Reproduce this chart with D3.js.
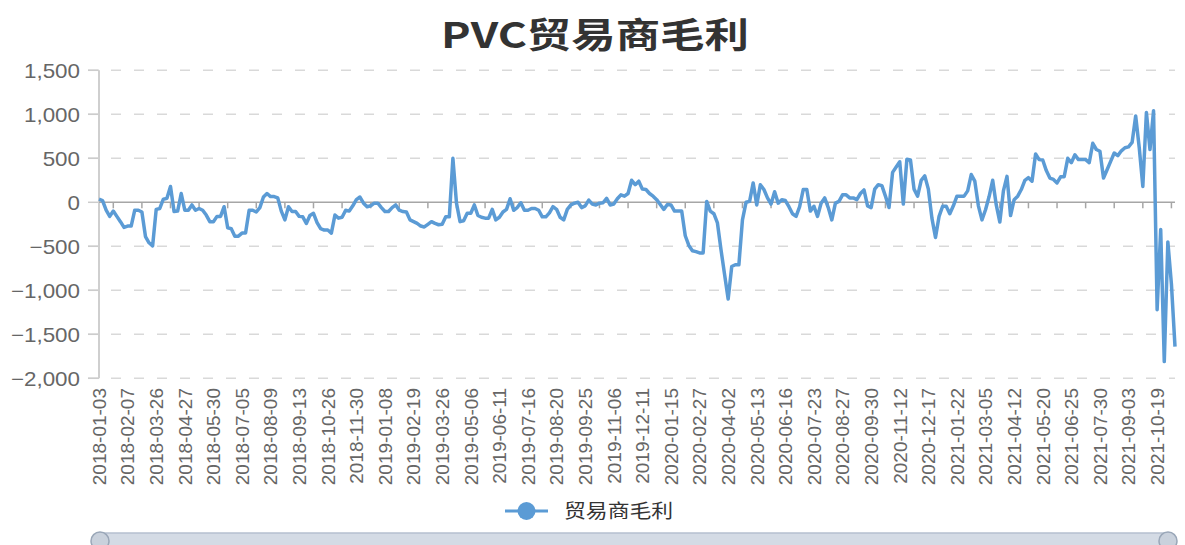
<!DOCTYPE html>
<html>
<head>
<meta charset="utf-8">
<title>PVC贸易商毛利</title>
<script src="https://d3js.org/d3.v7.min.js"></script>
<style>
    body { margin: 0; background: #fff; }
    .tick-label { font-family: "Liberation Sans", Arial, sans-serif; fill: #666; }
    .cjk { font-family: "Noto Sans CJK SC", sans-serif; }
</style>
</head>
<body>
<div id="vis_container"></div>
<script>
    var title = "PVC贸易商毛利";
    var seriesName = "贸易商毛利";

    // one label every 8 points along the category axis
    var labelEvery = 8;
    var dateLabels = [
        "2018-01-03","2018-02-07","2018-03-26","2018-04-27","2018-05-30","2018-07-05",
        "2018-08-09","2018-09-13","2018-10-26","2018-11-30","2019-01-08","2019-02-19",
        "2019-03-26","2019-05-06","2019-06-11","2019-07-16","2019-08-20","2019-09-25",
        "2019-11-06","2019-12-11","2020-01-15","2020-02-27","2020-04-02","2020-05-13",
        "2020-06-16","2020-07-23","2020-08-27","2020-09-30","2020-11-12","2020-12-17",
        "2021-01-22","2021-03-05","2021-04-12","2021-05-20","2021-06-25","2021-07-30",
        "2021-09-03","2021-10-19"
    ];

    var yTicks = [1500, 1000, 500, 0, -500, -1000, -1500, -2000];

    // trader margin (yuan/ton)
    var values = [
        35, 20, -90, -160, -100, -160, -220, -285, -270, -270,
        -90, -90, -110, -390, -460, -495, -80, -70, 35, 45,
        180, -105, -100, 100, -90, -90, -30, -90, -70, -90,
        -145, -220, -220, -160, -160, -50, -290, -300, -385, -385,
        -350, -350, -90, -90, -110, -60, 60, 100, 65, 65,
        50, -100, -200, -50, -105, -105, -160, -165, -240, -150,
        -125, -230, -300, -315, -315, -350, -145, -180, -170, -90,
        -100, -40, 30, 60, -10, -50, -40, -10, -10, -60,
        -105, -105, -60, -30, -90, -105, -110, -200, -220, -240,
        -270, -280, -250, -220, -240, -255, -250, -165, -165, 500,
        -10, -220, -210, -125, -125, -30, -150, -170, -180, -180,
        -80, -200, -170, -110, -80, 40, -90, -60, -5, -90,
        -90, -70, -70, -90, -165, -165, -120, -50, -80, -170,
        -200, -80, -30, -10, 0, -60, -40, 25, -20, -30,
        -10, -5, 45, -30, -20, 40, 85, 70, 100, 250,
        200, 240, 150, 145, 100, 70, 30, -25, -80, -25,
        -30, -100, -100, -100, -380, -490, -550, -560, -575, -575,
        10, -100, -130, -235, -540, -820, -1100, -730, -710, -710,
        -200, 0, 10, 220, -30, 200, 145, 50, -20, 120,
        -10, 30, 20, -50, -130, -160, -50, 145, 145, -100,
        -45, -160, -10, 50, -60, -200, -10, 10, 85, 85,
        50, 50, 30, 100, 140, -40, -60, 150, 200, 190,
        70, -60, 340, 400, 460, -20, 490, 480, 150, 70,
        250, 300, 150, -180, -400, -160, -45, -45, -130, -40,
        70, 70, 70, 130, 315, 240, -40, -200, -85, 65,
        250, -30, -225, 130, 295, -150, 30, 70, 145, 250,
        280, 240, 550, 485, 480, 360, 275, 260, 220, 290,
        290, 500, 450, 540, 485, 485, 485, 450, 670, 600,
        580, 275, 370, 465, 560, 530, 585, 620, 630, 680,
        980, 620, 180, 1020, 600, 1040, -1220, -310, -1810, -450,
        -930, -1640
    ];

    var width = 1185;
    var height = 545;
    var lineColor = "#5b9bd5";

    var svg = d3.select("#vis_container")
            .append("svg")
            .attr("width", width)
            .attr("height", height);

    var x = d3.scaleLinear()
            .domain([0, values.length - 1])
            .range([99, 1175]);

    var y = d3.scaleLinear()
            .domain([-2000, 1500])
            .range([378.3, 70.3]);

    // title
    svg.append("text")
            .attr("class", "cjk")
            .attr("transform", "translate(595,48) scale(1.27,1)")
            .attr("text-anchor", "middle")
            .style("font-size", "35px")
            .style("font-weight", "bold")
            .style("fill", "#333")
            .text(title);

    // horizontal dashed grid
    svg.append("g").selectAll("line")
            .data(yTicks.filter(function(d) { return d !== 0; }))
            .enter().append("line")
            .attr("x1", 88)
            .attr("x2", 1175)
            .attr("y1", function(d) { return y(d); })
            .attr("y2", function(d) { return y(d); })
            .style("stroke", "#d9d9d9")
            .style("stroke-width", 1.5)
            .style("stroke-dasharray", "10,13");

    // y tick marks left of the axis
    svg.append("g").selectAll("line")
            .data(yTicks)
            .enter().append("line")
            .attr("x1", 88)
            .attr("x2", 99)
            .attr("y1", function(d) { return y(d); })
            .attr("y2", function(d) { return y(d); })
            .style("stroke", "#ccc")
            .style("stroke-width", 1.5);

    // y axis line
    svg.append("line")
            .attr("x1", 99).attr("x2", 99)
            .attr("y1", y(1500)).attr("y2", y(-2000))
            .style("stroke", "#cfcfcf")
            .style("stroke-width", 2);

    // y labels
    svg.append("g").selectAll("text")
            .data(yTicks)
            .enter().append("text")
            .attr("class", "tick-label")
            .attr("transform", function(d) { return "translate(80," + y(d) + ") scale(1.12,1)"; })
            .attr("text-anchor", "end")
            .attr("dy", "0.36em")
            .style("font-size", "20px")
            .text(d3.format(","));

    // x axis line at zero
    svg.append("line")
            .attr("x1", 99).attr("x2", 1175)
            .attr("y1", y(0)).attr("y2", y(0))
            .style("stroke", "#a6a6a6")
            .style("stroke-width", 1.5);

    // x ticks, halfway between labels
    var tickIdx = d3.range(labelEvery / 2, values.length, labelEvery);
    svg.append("g").selectAll("line")
            .data(tickIdx)
            .enter().append("line")
            .attr("x1", function(d) { return x(d); })
            .attr("x2", function(d) { return x(d); })
            .attr("y1", y(0))
            .attr("y2", y(0) + 6)
            .style("stroke", "#a6a6a6")
            .style("stroke-width", 1.5);

    // x labels, rotated
    svg.append("g").selectAll("text")
            .data(dateLabels)
            .enter().append("text")
            .attr("class", "tick-label")
            .attr("transform", function(d, i) { return "translate(" + x(i * labelEvery) + ",388) rotate(-90)"; })
            .attr("text-anchor", "end")
            .attr("dy", "0.36em")
            .style("font-size", "19px")
            .text(function(d) { return d; });

    // series line
    var line = d3.line()
            .x(function(d, i) { return x(i); })
            .y(function(d) { return y(d); });

    svg.append("path")
            .datum(values)
            .attr("d", line)
            .style("fill", "none")
            .style("stroke", lineColor)
            .style("stroke-width", 3.5)
            .style("stroke-linejoin", "round");

    // legend
    var legend = svg.append("g");
    legend.append("line")
            .attr("x1", 505).attr("x2", 548)
            .attr("y1", 511).attr("y2", 511)
            .style("stroke", lineColor)
            .style("stroke-width", 3);
    legend.append("circle")
            .attr("cx", 526.5).attr("cy", 511).attr("r", 9)
            .style("fill", lineColor);
    legend.append("text")
            .attr("class", "cjk")
            .attr("transform", "translate(564,511) scale(1.15,1)")
            .attr("dy", "0.36em")
            .style("font-size", "19px")
            .style("fill", "#333")
            .text(seriesName);

    // data zoom slider at the bottom
    var slider = svg.append("g");
    slider.append("rect")
            .attr("x", 100).attr("y", 533)
            .attr("width", 1068).attr("height", 16)
            .attr("rx", 4)
            .style("fill", "#d4dbe5")
            .style("stroke", "#b5c0cf")
            .style("stroke-width", 1.5);
    slider.selectAll("circle")
            .data([100, 1168])
            .enter().append("circle")
            .attr("cx", function(d) { return d; })
            .attr("cy", 541)
            .attr("r", 9)
            .style("fill", "#c9d1dc")
            .style("stroke", "#9aa7b8")
            .style("stroke-width", 1.5);
</script>
</body>
</html>
